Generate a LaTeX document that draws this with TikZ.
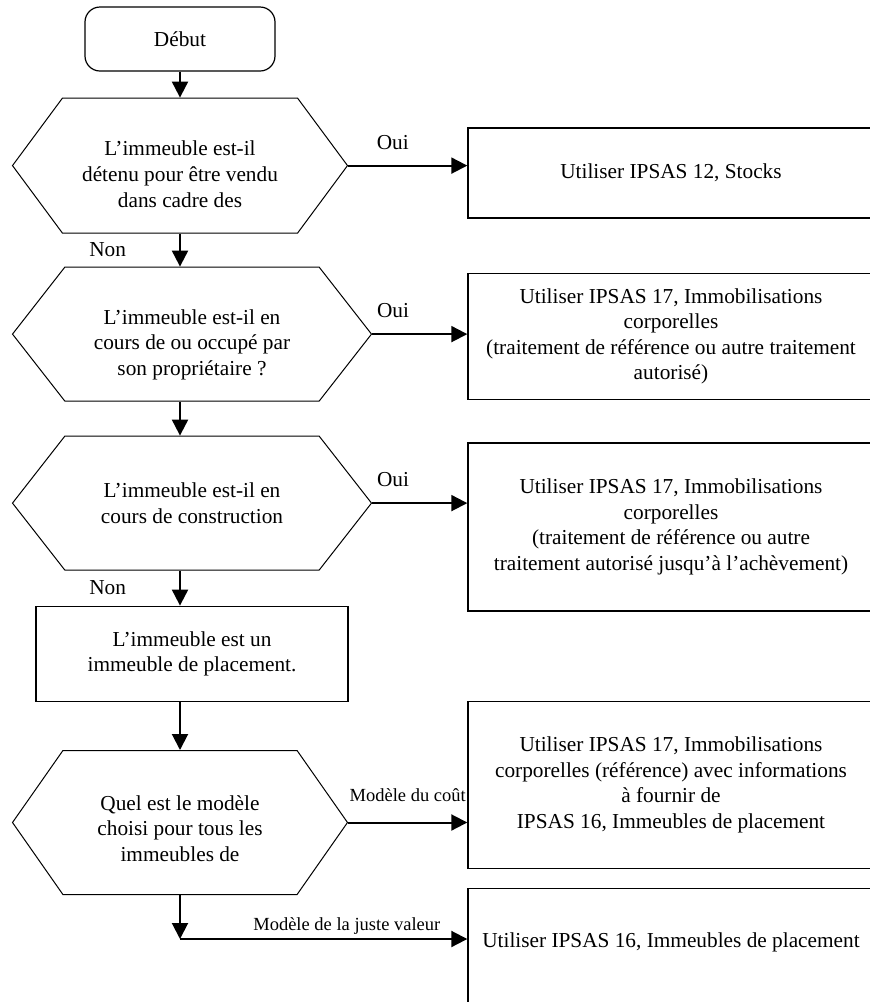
\documentclass[tikz,border=0pt]{standalone}
\usepackage{fontspec}
\setmainfont{Liberation Serif}
\usetikzlibrary{arrows.meta,positioning,calc,shapes.symbols}
% pushes the first line of a question down
\newcommand{\padtop}[1]{\rule{0pt}{#1}}

\begin{document}
\begin{tikzpicture}[x=0.5pt,y=-0.5pt,>={Triangle[length=8pt,width=8pt]},
 font=\fontsize{10.65}{12.8}\selectfont,
 start/.style={draw,line width=0.6pt,rounded corners=7.5pt,minimum width=95pt,minimum height=32pt},
 decision/.style={draw,line width=0.5pt,signal,signal to=west and east,signal pointer angle=107,minimum height=67.5pt,minimum width=167.5pt,align=center,inner sep=0pt},
 result/.style={draw,line width=0.7pt,minimum width=203pt,align=center,inner sep=0pt},
 flow/.style={->,line width=1pt},
 tag/.style={inner sep=0pt},
 smalltag/.style={inner sep=0pt,font=\fontsize{9.25}{11}\selectfont}]
\useasboundingbox (0,0) rectangle (869,1002);
% main column
\node[start] (debut) at (180,39) {Début};
\node[decision,below=13pt of debut] (q1) {\padtop{16pt}L’immeuble est-il\\détenu pour être vendu\\dans cadre des};
\node[decision,below=16.5pt of q1,xshift=6pt,minimum width=179.5pt,minimum height=67pt,signal pointer angle=104] (q2) {\padtop{18pt}L’immeuble est-il en\\cours de ou occupé par\\son propriétaire ?};
\node[decision,below=17pt of q2,minimum width=179.5pt,minimum height=67pt,signal pointer angle=104] (q3) {L’immeuble est-il en\\cours de construction};
\node[draw,line width=0.7pt,below=17.5pt of q3,minimum width=156pt,minimum height=47.5pt,align=center] (place) {L’immeuble est un\\immeuble de placement.};
\node[decision,below=24pt of place,xshift=-6pt,minimum height=72pt,signal pointer angle=110] (q4) {\padtop{13.5pt}Quel est le modèle\\choisi pour tous les\\immeubles de};
% results on the right
\node[result,minimum height=45pt] (r1) at (671,173) {Utiliser IPSAS 12, Stocks};
\node[result,below=27pt of r1,minimum height=63pt] (r2) {Utiliser IPSAS 17, Immobilisations\\corporelles\\(traitement de référence ou autre traitement\\autorisé)};
\node[result,below=21pt of r2,minimum height=84pt] (r3) {Utiliser IPSAS 17, Immobilisations\\corporelles\\(traitement de référence ou autre\\traitement autorisé jusqu’à l’achèvement)};
\node[result,below=44.5pt of r3,minimum height=83.5pt] (r4) {Utiliser IPSAS 17, Immobilisations\\corporelles (référence) avec informations\\à fournir de\\IPSAS 16, Immeubles de placement};
\node[result,below=9.5pt of r4,text height=29.5pt,text depth=60pt] (r5) {Utiliser IPSAS 16, Immeubles de placement};
\coordinate (split) at ($(q4.south)+(2,44)$);
% connectors
\draw[flow] (debut.south) -- (q1.north);
\draw[flow] (q1.south) -- (q1.south |- q2.north) node[tag,midway,left=26.5pt]{Non};
\draw[flow] (q1.south |- q2.south) -- (q1.south |- q3.north);
\draw[flow] (q1.south |- q3.south) -- (q1.south |- place.north) node[tag,midway,left=26.5pt]{Non};
\draw[flow] (q1.south |- place.south) -- (q4.north);
\draw[flow] (q1.east) -- (q1.east -| r1.west) node[tag,pos=0.375,above=7.5pt]{Oui};
\draw[flow] (q2.east) -- (q2.east -| r2.west) node[tag,pos=0.22,above=7.5pt]{Oui};
\draw[flow] (q3.east) -- (q3.east -| r3.west) node[tag,pos=0.22,above=7.5pt]{Oui};
\draw[flow] (q4.east) -- (q4.east -| r4.west) node[smalltag,midway,above=10pt]{Modèle du coût};
\draw[flow] (q4.south) -- (q4.south |- split);
\draw[flow] (q4.south |- split) -- (split -| r5.west) node[smalltag,at end,above left=2pt and 13pt]{Modèle de la juste valeur};
\end{tikzpicture}
\end{document}
